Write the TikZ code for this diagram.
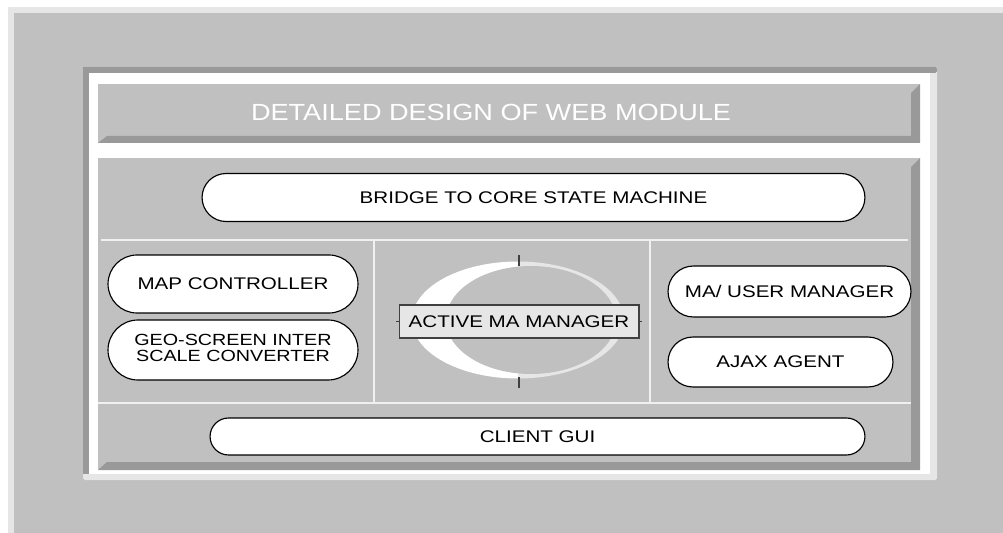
\documentclass[tikz,border=0pt]{standalone}
\usepackage{fontspec}
\setmainfont{Liberation Sans}
\usetikzlibrary{shapes.misc}
\definecolor{panelgray}{HTML}{C0C0C0}
\definecolor{lightgray}{HTML}{E6E6E6}
\definecolor{bevelgray}{HTML}{999999}
\definecolor{tickgray}{HTML}{404040}
\newcommand{\wtext}[1]{\scalebox{1.22}[1]{#1}}
\begin{document}
\begin{tikzpicture}[x=0.02cm, y=-0.02cm,
  pill/.style={draw=black, line width=0.65pt, fill=white, rounded rectangle,
    inner sep=0pt, font=\fontsize{9.6}{11}\selectfont},
  sep/.style={draw=white!94!black, line width=0.9pt}]
\useasboundingbox (0,0) rectangle (1003,533);
% outer panel
\fill[white] (0,0) rectangle (1003,533);
\fill[lightgray] (8,7) rectangle (1003,533);
\fill[panelgray] (14,13) rectangle (1003,533);
% frame
\fill[lightgray, rounded corners=1pt] (83,67) rectangle (937,480);
\fill[bevelgray, rounded corners=1pt] (83,67) rectangle (937,73);
\fill[bevelgray] (83,67) rectangle (89,474);
\fill[white] (89,73) rectangle (930,474);
% title box
\fill[panelgray] (98,84) rectangle (920,143);
\fill[bevelgray] (920,84) -- (920,143) -- (98,143) -- (107,136) -- (911,136) -- (911,93) -- cycle;
\node[anchor=base, text=white, font=\fontsize{13.3}{16}\selectfont] (title) at (491,121)
  {\scalebox{1.16}[1]{DETAILED DESIGN OF WEB MODULE}};
% main box
\fill[panelgray] (98,158) rectangle (920,470);
\fill[bevelgray] (920,158) -- (920,470) -- (98,470) -- (107,462) -- (911,462) -- (911,167) -- cycle;
\draw[sep] (101,240) -- (908,240);
\draw[sep] (98,403) -- (911,403);
\draw[sep] (374,240) -- (374,403);
\draw[sep] (650,240) -- (650,403);
% ring
\begin{scope}
  \clip (300,200) rectangle (518,450);
  \fill[white] (518,320) ellipse [x radius=2.12cm, y radius=1.17cm];
\end{scope}
\begin{scope}
  \clip (518,200) rectangle (700,450);
  \fill[lightgray] (518,320) ellipse [x radius=2.12cm, y radius=1.17cm];
\end{scope}
\fill[panelgray] (531,320) ellipse [x radius=1.70cm, y radius=1.08cm];
\draw[tickgray, line width=0.8pt] (519,255) -- (519,266);
\draw[tickgray, line width=0.8pt] (519,377) -- (519,388);
\draw[tickgray, line width=0.8pt] (396,321.5) -- (642,321.5);
% modules
\node[pill, minimum width=13.26cm, minimum height=0.96cm] (bridge) at (533.5,197.5)
  {\wtext{BRIDGE TO CORE STATE MACHINE}};
\node[pill, minimum width=5cm, minimum height=1.16cm] (mapctrl) at (233,284)
  {\wtext{MAP CONTROLLER}};
\node[pill, minimum width=5cm, minimum height=1.2cm] (geoconv) at (233,350)
  {\wtext{\fontsize{9.2}{7.9}\selectfont\begin{tabular}{@{}c@{}}GEO-SCREEN INTER\\SCALE CONVERTER\end{tabular}}};
\node[draw=tickgray, line width=0.6pt, fill=lightgray, inner sep=0pt,
  minimum width=4.8cm, minimum height=0.66cm, font=\fontsize{9.6}{11}\selectfont] (activema) at (519,321.5)
  {\wtext{ACTIVE MA MANAGER}};
\node[pill, minimum width=4.86cm, minimum height=1.02cm] (usermgr) at (789.5,291.5)
  {\wtext{MA/ USER MANAGER}};
\node[pill, minimum width=4.5cm, minimum height=1cm] (ajax) at (780.5,362)
  {\wtext{AJAX AGENT}};
\node[pill, minimum width=13.1cm, minimum height=0.74cm] (clientgui) at (537.5,436.5)
  {\wtext{CLIENT GUI}};
\end{tikzpicture}
\end{document}
